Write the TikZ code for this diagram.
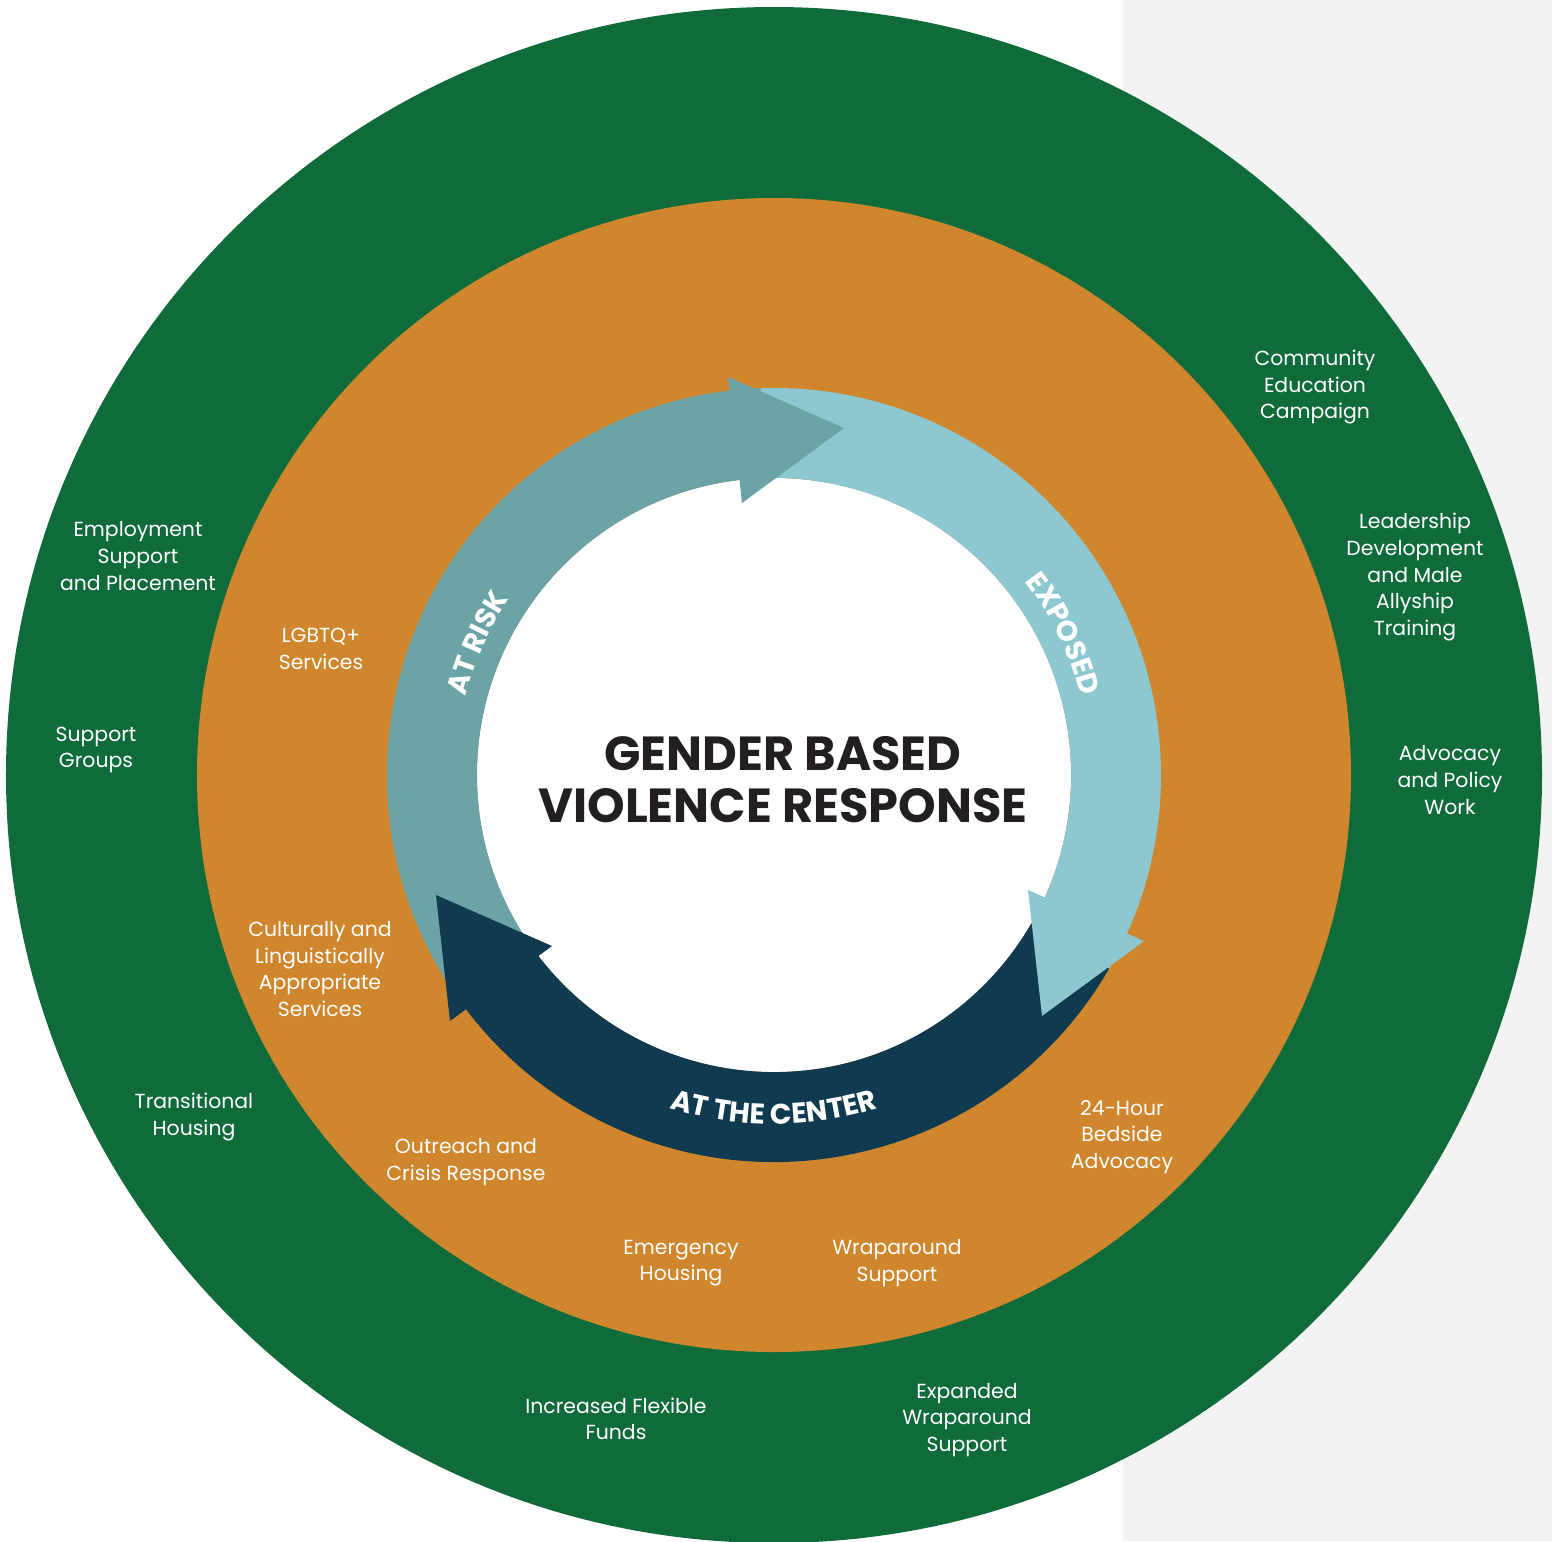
\documentclass[tikz,border=0pt]{standalone}
\usepackage{fontspec}
\setmainfont{Poppins}
\usetikzlibrary{decorations.text}

\definecolor{ringgreen}{HTML}{0F6B3A}
\definecolor{ringorange}{HTML}{CF862C}
\definecolor{riskteal}{HTML}{6BA3A6}
\definecolor{exposedblue}{HTML}{8DC8D0}
\definecolor{centernavy}{HTML}{0F3A50}
\definecolor{pagegray}{HTML}{F3F3F3}
\definecolor{titleink}{HTML}{231F20}

\newcommand\arclabel{\color{white}\bfseries\fontsize{8.1}{9}\selectfont}

\tikzset{
  ringlabel/.style={text=white, align=center, inner sep=0pt,
    font=\fontsize{5.8}{7.55}\selectfont},
  arctext/.style={decorate, decoration={text along path, text align=center,
    text={|\arclabel|#1}}},
}

\begin{document}
\begin{tikzpicture}[x=0.01cm, y=0.01cm]
  \useasboundingbox (-774,-766) rectangle (778,775);
  % Page background
  \fill[white] (-774,-766) rectangle (349,775);
  \fill[pagegray] (349,-766) rectangle (778,775);
  % Outer and middle rings
  \fill[ringgreen] (0,0) circle [radius=768];
  \fill[ringorange] (0,0) circle [radius=577];
  \fill[white] (0,0) circle [radius=297];
  % Cycle bands
  \fill[riskteal] (212:387) arc [start angle=212, end angle=92, radius=387]
    -- (92:297) arc [start angle=92, end angle=212, radius=297] -- cycle;
  \fill[exposedblue] (92:387) arc [start angle=92, end angle=-30, radius=387]
    -- (-30:297) arc [start angle=-30, end angle=92, radius=297] -- cycle;
  \fill[centernavy] (-30:387) arc [start angle=-30, end angle=-148, radius=387]
    -- (-148:297) arc [start angle=-148, end angle=-30, radius=297] -- cycle;
  % Arrow heads
  \fill[riskteal] (-46,398) -- ++(116,-51) -- ++(-102,-75) -- cycle;
  \fill[exposedblue] (254,-115) -- ++(116,-51) -- ++(-102,-75) -- cycle;
  \fill[centernavy] (-338,-120) -- ++(116,-51) -- ++(-102,-75) -- cycle;
  % Band labels
  \path[arctext={AT RISK}] (190:318) arc [start angle=190, end angle=122, radius=318];
  \path[arctext={EXPOSED}] (60:317) arc [start angle=60, end angle=-8, radius=317];
  \path[arctext={AT THE CENTER}] (-135:349) arc [start angle=-135, end angle=-45, radius=349];
  % Title
  \node [align=center, inner sep=0pt, text=titleink, font=\bfseries\fontsize{13.6}{14.8}\selectfont]
    (title) at (9,-5) {GENDER BASED\\VIOLENCE RESPONSE};
  % Outer ring labels
  \node [ringlabel] (commEd) at (541,388) {Community\\Education\\Campaign};
  \node [ringlabel] (leadership) at (641,198) {Leadership\\Development\\and Male\\Allyship\\Training};
  \node [ringlabel] (advocacy) at (676,-5) {Advocacy\\and Policy\\Work};
  \node [ringlabel] (expanded) at (193,-645) {Expanded\\Wraparound\\Support};
  \node [ringlabel] (funds) at (-158,-644) {Increased Flexible\\Funds};
  \node [ringlabel] (transitional) at (-580,-342) {Transitional\\Housing};
  \node [ringlabel] (groups) at (-678,25) {Support\\Groups};
  \node [ringlabel] (employment) at (-636,219) {Employment\\Support\\and Placement};
  % Middle ring labels
  \node [ringlabel] (lgbtq) at (-453,126) {LGBTQ+\\Services};
  \node [ringlabel] (cultural) at (-454,-194) {Culturally and\\Linguistically\\Appropriate\\Services};
  \node [ringlabel] (outreach) at (-308,-387) {Outreach and\\Crisis Response};
  \node [ringlabel] (emergency) at (-93,-488) {Emergency\\Housing};
  \node [ringlabel] (wraparound) at (123,-488) {Wraparound\\Support};
  \node [ringlabel] (bedside) at (348,-362) {24-Hour\\Bedside\\Advocacy};
\end{tikzpicture}
\end{document}
